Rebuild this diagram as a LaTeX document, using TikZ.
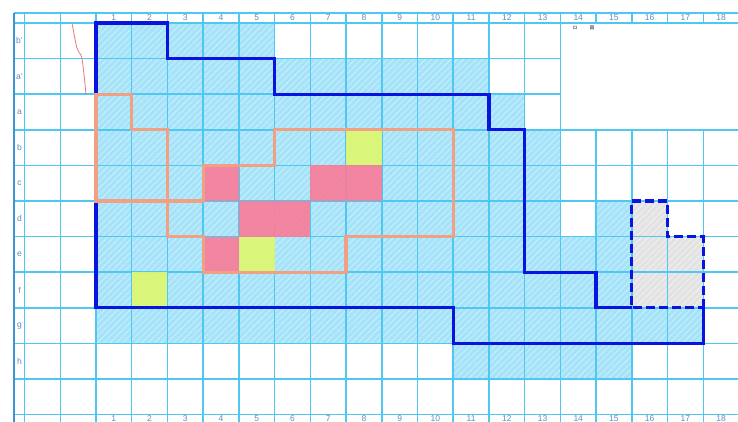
\documentclass[tikz,border=0pt]{standalone}
\usepackage{fontspec}
\setmainfont{Liberation Sans}
\newfontfamily\cjk{Noto Sans CJK JP}
\usetikzlibrary{patterns.meta}
\definecolor{gridc}{HTML}{4EC8F0}
\definecolor{borderc}{HTML}{3A95D0}
\definecolor{shadec}{HTML}{A6E3F9}
\definecolor{hatchc}{HTML}{D2F3FF}
\definecolor{bluel}{HTML}{0A14E0}
\definecolor{orangel}{HTML}{F2A084}
\definecolor{pinkc}{HTML}{F87E9A}
\definecolor{yellowc}{HTML}{DEF870}
\definecolor{greyc}{HTML}{E3E3E3}
\definecolor{txtc}{HTML}{5A8CC0}
\definecolor{redl}{HTML}{E87878}
\tikzset{
  gridline/.style={draw=gridc,line width=1.5pt},
  borderline/.style={draw=borderc,line width=1.5pt},
  hatch/.style={pattern={Lines[angle=45,distance=4.5pt,line width=0.6pt]},pattern color=hatchc},
  outblue/.style={draw=bluel,line width=3.2pt,line join=miter},
  outorange/.style={draw=orangel,line width=3.2pt,line join=miter},
  outdash/.style={draw=bluel,line width=3.2pt,dash pattern=on 9pt off 4pt},
  hdr/.style={font=\fontsize{8.5}{8.5}\selectfont,text=txtc,inner sep=0pt},
  rowlab/.style={font=\fontsize{8.5}{8.5}\selectfont,text=txtc!80!gray,inner sep=0pt},
  pinkcell/.style={fill=pinkc,fill opacity=0.92},
  yellowcell/.style={fill=yellowc,fill opacity=0.92},
}
\begin{document}
\begin{tikzpicture}[x=35.72pt,y=-35.6pt]
\useasboundingbox (-2.6876,-0.6461) rectangle (17.973,11.180);
\clip (-2.6876,-0.6461) rectangle (17.973,11.180);
% shaded region
\fill[shadec] (0,0)--(5,0)--(5,1)--(11,1)--(11,2)--(12,2)--(12,3)--(13,3)--(13,6)--(14,6)--(14,5)--(15,5)--(15,8)--(17,8)--(17,9)--(15,9)--(15,10)--(10,10)--(10,9)--(0,9)--cycle;
\fill[hatch] (0,0)--(5,0)--(5,1)--(11,1)--(11,2)--(12,2)--(12,3)--(13,3)--(13,6)--(14,6)--(14,5)--(15,5)--(15,8)--(17,8)--(17,9)--(15,9)--(15,10)--(10,10)--(10,9)--(0,9)--cycle;
% grey region
\fill[greyc] (15,5)--(16,5)--(16,6)--(17,6)--(17,8)--(15,8)--cycle;
\fill[pattern={Lines[angle=45,distance=4.5pt,line width=0.6pt]},pattern color=white!60!greyc] (15,5)--(16,5)--(16,6)--(17,6)--(17,8)--(15,8)--cycle;
% grid lines
\foreach \i in {-2,-1,0,1,...,13} \draw[gridline] (\i,-0.281) -- (\i,11.4);
\foreach \i in {14,...,18} {
  \draw[gridline] (\i,-0.281) -- (\i,0);
  \draw[gridline] (\i,3) -- (\i,11.4);
}
\foreach \j in {0,3,4,...,11} \draw[gridline] (-2.2956,\j) -- (18.3,\j);
\foreach \j in {1,2} \draw[gridline] (-2.2956,\j) -- (13,\j);
\draw[gridline] (-2.2956,-0.281) -- (18.3,-0.281);
\draw[borderline] (-2.2956,-0.281) -- (-2.2956,11.4);
% pink and yellow cells
\fill[pinkcell] (3,4) rectangle (4,5);
\fill[pinkcell] (6,4) rectangle (8,5);
\fill[pinkcell] (4,5) rectangle (6,6);
\fill[pinkcell] (3,6) rectangle (4,7);
\fill[yellowcell] (7,3) rectangle (8,4);
\fill[yellowcell] (4,6) rectangle (5,7);
\fill[yellowcell] (1,7) rectangle (2,8);
% blue outline
\draw[outblue] (15,8)--(14,8)--(14,7)--(12,7)--(12,3)--(11,3)--(11,2)--(5,2)--(5,1)--(2,1)--(2,0)--(0,0)--(0,8)--(10,8)--(10,9)--(17,9)--(17,8);
\draw[outdash] (17,8)--(17,6)--(16,6)--(16,5)--(15,5)--(15,8)--(17,8);
% orange outline
\draw[outorange] (0,2)--(1,2)--(1,3)--(2,3)--(2,6)--(3,6)--(3,7)--(7,7)--(7,6)--(10,6)--(10,3)--(5,3)--(5,4)--(3,4)--(3,5)--(0,5)--cycle;
% red hand line
\draw[redl,line width=0.8pt] plot[smooth] coordinates {(-0.672,0) (-0.56,0.6) (-0.50,0.78) (-0.40,0.97) (-0.33,1.5) (-0.28,2)};
% column numbers
\foreach \n in {1,...,18} {
  \node[hdr] (t\n) at (\n-0.5,-0.14) {\n};
  \node[hdr] (b\n) at (\n-0.5,11.12) {\n};
}
% row labels
\foreach \l [count=\k] in {b',a',a,b,c,d,e,f,g,h}
  \node[rowlab] (r\k) at (-2.142,\k-0.5) {\l};
% tiny text
\node[font=\cjk\fontsize{4.5}{4.5}\selectfont,inner sep=0pt] (s1) at (13.41,0.14) {ロ};
\node[font=\cjk\fontsize{4.5}{4.5}\selectfont,inner sep=0pt] (s2) at (13.886,0.14) {図};
\end{tikzpicture}
\end{document}
